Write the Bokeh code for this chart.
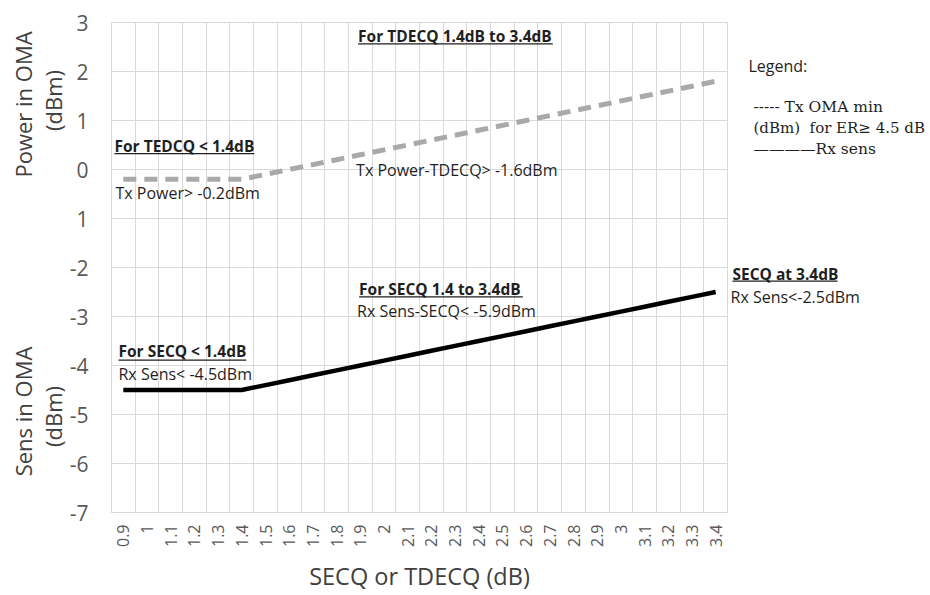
from math import pi
from bokeh.plotting import figure
from bokeh.layouts import row
from bokeh.models import Range1d, FixedTicker, Label, BoxAnnotation
from bokeh.embed import file_html
from bokeh.resources import INLINE

# ---------------- data ----------------
categories = ["0.9", "1", "1.1", "1.2", "1.3", "1.4", "1.5", "1.6", "1.7", "1.8",
              "1.9", "2", "2.1", "2.2", "2.3", "2.4", "2.5", "2.6", "2.7", "2.8",
              "2.9", "3", "3.1", "3.2", "3.3", "3.4"]
tx_oma_min = [-0.2, -0.2, -0.2, -0.2, -0.2, -0.2, -0.1, 0.0, 0.1, 0.2,
              0.3, 0.4, 0.5, 0.6, 0.7, 0.8, 0.9, 1.0, 1.1, 1.2,
              1.3, 1.4, 1.5, 1.6, 1.7, 1.8]
rx_sens = [-4.5, -4.5, -4.5, -4.5, -4.5, -4.5, -4.4, -4.3, -4.2, -4.1,
           -4.0, -3.9, -3.8, -3.7, -3.6, -3.5, -3.4, -3.3, -3.2, -3.1,
           -3.0, -2.9, -2.8, -2.7, -2.6, -2.5]
y_ticks = [-7, -6, -5, -4, -3, -2, -1, 0, 1, 2, 3]
y_tick_labels = ["-7", "-6", "-5", "-4", "-3", "-2", "1", "0", "1", "2", "3"]

# ---------------- layout ----------------
W, H = 930, 595
L, R, T, B = 110, 727, 22, 518      # plot frame in page pixels
LW = 66                             # left title strip width
RX0 = R + 1                         # right text strip starts here
N = len(categories)
Y0, Y1 = -7, 3
TXT = "#1f1f1f"
FONT = "Open Sans"
SERIF = "DejaVu Serif"

xs = [i + 0.5 for i in range(N)]
OFFSETS = {}


def blank(width, x_offset, key):
    f = figure(width=width, height=H, x_range=Range1d(0, width), y_range=Range1d(0, H),
               output_backend="svg", toolbar_location=None,
               x_axis_location=None, y_axis_location=None,
               min_border=0, min_border_left=0, min_border_right=0,
               min_border_top=0, min_border_bottom=0, frame_align=False)
    f.outline_line_color = None
    f.xgrid.visible = False
    f.ygrid.visible = False
    f.background_fill_color = "white"
    f.border_fill_color = "white"
    OFFSETS[key] = x_offset
    return f


# ---- main plot ----
p = figure(width=RX0 - LW, height=H, x_range=Range1d(0, N), y_range=Range1d(Y0, Y1),
           output_backend="svg", toolbar_location=None, frame_align=False,
           min_border_left=L - LW, min_border_right=1,
           min_border_top=T, min_border_bottom=H - B)
p.background_fill_color = "white"
p.border_fill_color = "white"
p.outline_line_color = "#d9d9d9"

p.xgrid.ticker = FixedTicker(ticks=list(range(N + 1)))
p.ygrid.ticker = FixedTicker(ticks=y_ticks)
for g in (p.xgrid, p.ygrid):
    g.grid_line_color = "#d9d9d9"
    g.grid_line_width = 1

xa = p.xaxis[0]
xa.ticker = FixedTicker(ticks=xs)
xa.major_label_overrides = {x: c for x, c in zip(xs, categories)}
xa.major_label_orientation = pi / 2
xa.major_label_text_font = FONT
xa.major_label_text_font_size = "16px"
xa.major_label_text_color = "#595959"
xa.major_tick_line_color = None
xa.minor_tick_line_color = None
xa.major_tick_out = 0
xa.major_tick_in = 0
xa.major_label_standoff = 12
xa.axis_line_color = "#d9d9d9"
xa.axis_label = "SECQ or TDECQ (dB)"
xa.axis_label_text_font = FONT
xa.axis_label_text_font_size = "23.5px"
xa.axis_label_text_font_style = "normal"
xa.axis_label_text_color = "#404040"
xa.axis_label_standoff = 10

ya = p.yaxis[0]
ya.ticker = FixedTicker(ticks=y_ticks)
ya.major_label_overrides = {t: s for t, s in zip(y_ticks, y_tick_labels)}
ya.major_label_text_font = FONT
ya.major_label_text_font_size = "21px"
ya.major_label_text_color = "#595959"
ya.major_tick_line_color = None
ya.minor_tick_line_color = None
ya.major_tick_out = 0
ya.major_tick_in = 0
ya.major_label_standoff = 23
ya.axis_line_color = None

p.line(xs, tx_oma_min, line_color="#a9a9a9", line_width=5, line_dash="13 8")
p.line(xs, rx_sens, line_color="#000000", line_width=4.5)

# ---- side strips ----
left = blank(LW, 0, "left")
right = blank(W - RX0, RX0, "right")
STRIP_KEY = {id(left): "left", id(right): "right"}


def to_main(px, py):
    return (px - L) / (R - L) * N, Y1 - (py - T) / (B - T) * (Y1 - Y0)


def to_strip(f, px, py):
    return px - OFFSETS[STRIP_KEY[id(f)]], H - py


def conv(f, px, py):
    return to_main(px, py) if f is p else to_strip(f, px, py)


def label(f, px, py, text, size="16px", bold=False, font=FONT, color=TXT,
          align="left", angle=0.0):
    x, y = conv(f, px, py)
    f.add_layout(Label(x=x, y=y, text=text, text_font=font, text_font_size=size,
                       text_font_style="bold" if bold else "normal",
                       text_color=color, text_align=align,
                       text_baseline="middle", angle=angle))


def underline(f, px0, px1, py):
    x0, y0 = conv(f, px0, py)
    x1, y1 = conv(f, px1, py + 1.3)
    f.add_layout(BoxAnnotation(left=x0, right=x1, top=y0, bottom=y1,
                               fill_color=TXT, fill_alpha=1.0, line_color=None,
                               level="overlay"))


BOLD = "15.5px"

# axis titles (rotated, two lines each)
label(left, 22, 104, "Power in OMA", size="22px", color="#404040", align="center", angle=pi / 2)
label(left, 52, 100, "(dBm)", size="22px", color="#404040", align="center", angle=pi / 2)
label(left, 22, 411, "Sens in OMA", size="22px", color="#404040", align="center", angle=pi / 2)
label(left, 52, 416, "(dBm)", size="22px", color="#404040", align="center", angle=pi / 2)

# in-plot notes
label(p, 113, 147, "For TEDCQ < 1.4dB", size=BOLD, bold=True)
underline(p, 113, 253, 154)
label(p, 114, 195, "Tx Power> -0.2dBm")

label(p, 357, 36, "For TDECQ 1.4dB to 3.4dB", size=BOLD, bold=True)
underline(p, 357, 552, 43)
label(p, 355, 171, "Tx Power-TDECQ> -1.6dBm")

label(p, 358, 292, "For SECQ 1.4 to 3.4dB", size=BOLD, bold=True)
underline(p, 358, 522, 299)
label(p, 356, 314, "Rx Sens-SECQ< -5.9dBm")

label(p, 117, 355, "For SECQ < 1.4dB", size=BOLD, bold=True)
underline(p, 117, 245, 363)
label(p, 117, 378, "Rx Sens< -4.5dBm")

# right strip notes
label(right, 732, 273, "SECQ at 3.4dB", size=BOLD, bold=True)
underline(right, 732, 837, 280)
label(right, 730, 296, "Rx Sens<-2.5dBm")

label(right, 748, 65, "Legend:", size="16px")
label(right, 753, 106, "----- Tx OMA min", size="15.5px", font=SERIF)
label(right, 753, 127, "(dBm)\u00a0\u00a0for ER\u2265 4.5 dB", size="15px", font=SERIF)
label(right, 753, 148, "\u2014\u2014\u2014\u2014Rx sens", size="15.5px", font=SERIF)

layout = row(left, p, right, spacing=0)
open("out.html", "w").write(file_html(layout, INLINE))
